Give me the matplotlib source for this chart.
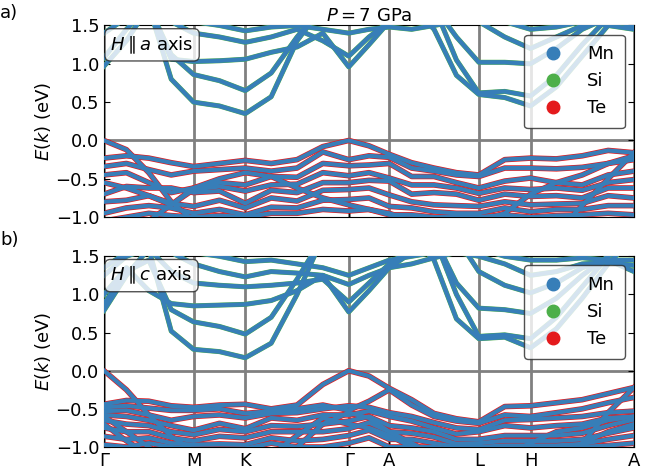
import numpy as np
from matplotlib import pyplot as plt
from matplotlib.lines import Line2D

# k-path sample positions (path length, Gamma-M = 1)
kpts = [0.0, 0.25, 0.5, 0.75, 1.0, 1.289, 1.577, 1.866, 2.155, 2.443, 2.732, 2.958,
        3.184, 3.434, 3.684, 3.934, 4.184, 4.473, 4.761, 5.050, 5.338, 5.627, 5.916]
sym_pos = [0.0, 1.0, 1.577, 2.732, 3.184, 4.184, 4.761, 5.916]
sym_lab = ['Γ', 'M', 'K', 'Γ', 'A', 'L', 'H', 'A']

# panel a) H || a : conduction bands (eV)
cond_a = [
    [0.97, 1.30, 1.75, 0.80, 0.50, 0.45, 0.35, 0.57, 1.30, 1.75, 1.75, 1.75, 1.75, 1.75, 1.45, 0.85, 0.60, 0.56, 0.45, 0.70, 1.10, 1.50, 1.75],
    [1.08, 1.45, 1.75, 1.12, 0.86, 0.78, 0.65, 0.88, 1.35, 1.75, 1.75, 1.75, 1.75, 1.75, 1.75, 1.05, 0.62, 0.64, 0.58, 0.85, 1.25, 1.60, 1.75],
    [1.40, 1.60, 1.75, 1.06, 1.03, 1.04, 1.06, 1.15, 1.22, 1.40, 0.96, 1.25, 1.55, 1.75, 1.75, 1.35, 1.02, 1.02, 1.00, 1.20, 1.45, 1.60, 1.75],
    [1.75, 1.75, 1.75, 1.55, 1.40, 1.35, 1.28, 1.35, 1.45, 1.30, 1.10, 1.35, 1.55, 1.60, 1.75, 1.75, 1.55, 1.35, 1.20, 1.35, 1.50, 1.60, 1.48],
    [1.75, 1.75, 1.70, 1.60, 1.55, 1.50, 1.43, 1.48, 1.50, 1.45, 1.40, 1.45, 1.48, 1.45, 1.50, 1.55, 1.75, 1.55, 1.45, 1.48, 1.55, 1.50, 1.45],
]
# panel a) valence bands (eV)
val_a = [
    [0.00, -0.12, -0.42, -0.80, -1.05, -1.20, -1.20, -1.20, -1.20, -1.20, -1.20, -1.20, -1.20, -1.20, -1.20, -1.20, -1.20, -1.20, -1.20, -1.20, -0.85, -0.50, -0.16],
    [-0.23, -0.20, -0.23, -0.29, -0.34, -0.30, -0.26, -0.30, -0.25, -0.08, 0.00, -0.07, -0.18, -0.29, -0.36, -0.42, -0.45, -0.25, -0.23, -0.24, -0.20, -0.13, -0.16],
    [-0.34, -0.30, -0.38, -0.45, -0.40, -0.38, -0.36, -0.40, -0.36, -0.15, -0.25, -0.20, -0.22, -0.36, -0.40, -0.45, -0.47, -0.36, -0.36, -0.37, -0.35, -0.30, -0.25],
    [-0.45, -0.42, -0.55, -0.68, -0.62, -0.55, -0.58, -0.47, -0.48, -0.30, -0.33, -0.32, -0.30, -0.47, -0.47, -0.55, -0.62, -0.53, -0.49, -0.55, -0.58, -0.45, -0.40],
    [-0.55, -0.62, -0.72, -0.84, -0.64, -0.60, -0.66, -0.58, -0.57, -0.42, -0.46, -0.42, -0.49, -0.58, -0.58, -0.62, -0.69, -0.62, -0.64, -0.62, -0.65, -0.55, -0.51],
    [-0.70, -0.60, -0.62, -0.62, -0.68, -0.66, -0.82, -0.65, -0.68, -0.55, -0.55, -0.52, -0.53, -0.70, -0.68, -0.70, -0.78, -0.70, -0.73, -0.72, -0.75, -0.62, -0.62],
    [-0.80, -0.78, -0.72, -0.82, -0.86, -0.78, -0.88, -0.75, -0.79, -0.65, -0.64, -0.62, -0.71, -0.80, -0.84, -0.85, -0.86, -0.80, -0.84, -0.83, -0.82, -0.72, -0.75],
    [-0.95, -0.88, -0.85, -0.88, -0.95, -0.90, -0.97, -0.87, -0.88, -0.78, -0.77, -0.75, -0.86, -0.88, -0.93, -0.95, -0.95, -0.88, -0.93, -0.90, -0.90, -0.85, -0.85],
    [-1.05, -1.00, -0.95, -0.98, -1.00, -0.98, -1.00, -0.95, -0.95, -0.90, -0.92, -0.90, -0.97, -0.97, -1.00, -1.00, -1.00, -0.97, -1.00, -0.98, -0.97, -0.95, -0.97],
    [-1.20, -1.20, -1.05, -0.84, -0.62, -0.50, -0.42, -0.47, -0.62, -0.75, -0.84, -0.90, -0.95, -1.05, -1.10, -1.10, -1.05, -0.95, -0.70, -0.55, -0.45, -0.30, -0.20],
]

# panel b) H || c : conduction bands (eV)
cond_b = [
    [0.79, 1.25, 1.60, 0.52, 0.28, 0.25, 0.17, 0.36, 1.00, 1.75, 1.75, 1.75, 1.75, 1.75, 1.45, 0.68, 0.42, 0.44, 0.30, 0.55, 0.95, 1.40, 1.75],
    [0.88, 1.30, 1.45, 0.80, 0.64, 0.58, 0.48, 0.70, 1.20, 1.75, 1.75, 1.75, 1.75, 1.75, 1.75, 1.00, 0.45, 0.47, 0.42, 0.70, 1.10, 1.50, 1.75],
    [1.00, 1.35, 1.05, 0.88, 0.85, 0.86, 0.87, 0.92, 1.05, 1.25, 0.77, 1.05, 1.35, 1.55, 1.75, 1.15, 0.82, 0.80, 0.75, 0.95, 1.25, 1.50, 1.75],
    [1.25, 1.50, 1.60, 1.30, 1.15, 1.12, 1.10, 1.12, 1.15, 1.20, 0.90, 1.15, 1.40, 1.60, 1.75, 1.75, 1.30, 1.12, 1.02, 1.15, 1.35, 1.45, 1.30],
    [1.35, 1.55, 1.75, 1.55, 1.40, 1.30, 1.23, 1.30, 1.28, 1.25, 1.13, 1.25, 1.35, 1.40, 1.48, 1.55, 1.50, 1.40, 1.25, 1.30, 1.40, 1.42, 1.38],
    [1.60, 1.75, 1.75, 1.70, 1.55, 1.50, 1.43, 1.45, 1.40, 1.35, 1.25, 1.35, 1.45, 1.50, 1.55, 1.75, 1.60, 1.50, 1.45, 1.45, 1.48, 1.45, 1.45],
]
# panel b) valence bands (eV)
val_b = [
    [0.00, -0.25, -0.58, -0.86, -1.05, -1.20, -1.20, -1.20, -1.20, -1.20, -1.20, -1.20, -1.20, -1.20, -1.20, -1.20, -1.20, -1.20, -1.20, -1.20, -0.95, -0.55, -0.22],
    [-0.44, -0.39, -0.40, -0.46, -0.48, -0.45, -0.44, -0.50, -0.45, -0.18, 0.00, -0.07, -0.23, -0.38, -0.56, -0.63, -0.67, -0.47, -0.46, -0.42, -0.38, -0.30, -0.22],
    [-0.48, -0.46, -0.49, -0.52, -0.52, -0.50, -0.56, -0.53, -0.50, -0.45, -0.52, -0.40, -0.25, -0.45, -0.60, -0.66, -0.69, -0.58, -0.60, -0.55, -0.50, -0.42, -0.35],
    [-0.53, -0.52, -0.58, -0.65, -0.60, -0.58, -0.62, -0.56, -0.55, -0.50, -0.46, -0.48, -0.55, -0.60, -0.68, -0.75, -0.77, -0.65, -0.64, -0.62, -0.60, -0.55, -0.53],
    [-0.58, -0.60, -0.65, -0.72, -0.78, -0.69, -0.76, -0.62, -0.65, -0.58, -0.58, -0.53, -0.60, -0.66, -0.75, -0.83, -0.80, -0.72, -0.75, -0.72, -0.70, -0.62, -0.60],
    [-0.65, -0.70, -0.72, -0.80, -0.84, -0.77, -0.80, -0.72, -0.73, -0.70, -0.66, -0.60, -0.72, -0.75, -0.80, -0.90, -0.90, -0.85, -0.85, -0.85, -0.82, -0.72, -0.64],
    [-0.75, -0.80, -0.80, -0.88, -0.92, -0.86, -0.88, -0.80, -0.80, -0.80, -0.76, -0.68, -0.80, -0.82, -0.87, -0.96, -0.95, -0.92, -0.92, -0.92, -0.90, -0.82, -0.75],
    [-0.86, -0.90, -0.88, -0.95, -0.97, -0.96, -0.97, -0.88, -0.92, -0.90, -0.85, -0.78, -0.90, -0.90, -0.95, -1.00, -1.00, -0.98, -0.98, -0.98, -0.96, -0.90, -0.85],
    [-0.97, -1.00, -0.95, -1.00, -1.02, -1.02, -1.02, -0.95, -1.00, -1.00, -0.95, -0.88, -1.00, -1.00, -1.00, -1.05, -1.05, -1.02, -1.02, -1.02, -1.00, -0.98, -0.95],
    [-0.60, -0.80, -1.00, -1.20, -1.20, -1.20, -1.20, -1.20, -1.00, -0.70, -0.55, -0.62, -0.80, -0.95, -1.10, -1.20, -1.20, -1.10, -0.95, -0.80, -0.75, -0.65, -0.60],
    [-0.70, -0.92, -1.10, -1.20, -1.20, -1.20, -1.20, -1.10, -0.85, -0.62, -0.70, -0.75, -0.85, -1.00, -1.20, -1.20, -1.20, -1.20, -1.20, -1.10, -0.95, -0.80, -0.70],
]

c_mn = '#377eb8'
c_si = '#4daf4a'
c_te = '#e41a1c'


def draw_panel(ax, cond, val, tag):
    for x in sym_pos:
        ax.axvline(x, color='0.5', lw=2, zorder=1)
    ax.axhline(0, color='0.5', lw=2, zorder=1)
    for band in val:
        ax.plot(kpts, band, color=c_te, lw=4.0, zorder=2, solid_joinstyle='round')
        ax.plot(kpts, band, color=c_mn, lw=3.0, zorder=4, solid_joinstyle='round')
    for band in cond:
        ax.plot(kpts, band, color=c_si, lw=3.6, zorder=3, solid_joinstyle='round')
        ax.plot(kpts, band, color=c_mn, lw=3.1, zorder=4, solid_joinstyle='round')
    ax.set_xlim(sym_pos[0], sym_pos[-1])
    ax.set_ylim(-1.0, 1.5)
    ax.set_yticks([-1.0, -0.5, 0.0, 0.5, 1.0, 1.5])
    ax.set_xticks(sym_pos)
    ax.tick_params(direction='in', right=True, length=4, labelsize=13)
    ax.set_ylabel('$E(k)$ (eV)', fontsize=13, labelpad=2)
    ax.text(0.012, 0.955, tag, transform=ax.transAxes, va='top', ha='left',
            fontsize=13, zorder=10,
            bbox=dict(boxstyle='round,pad=0.3', fc='white', ec='0.15', alpha=0.8))
    handles = [Line2D([], [], marker='o', ls='none', color=c, markersize=9)
               for c in (c_mn, c_si, c_te)]
    leg = ax.legend(handles, ['Mn', 'Si', 'Te'], loc='upper right', fontsize=13,
                    handlelength=2.0, handletextpad=0.9, labelspacing=0.5,
                    borderpad=0.6, framealpha=0.8, edgecolor='0.15', fancybox=True)
    leg.set_zorder(10)


fig = plt.figure(figsize=(6.6, 4.72), dpi=100)
ax1 = fig.add_axes([0.1576, 0.540, 0.803, 0.406])
ax2 = fig.add_axes([0.1576, 0.053, 0.803, 0.404])

draw_panel(ax1, cond_a, val_a, r'$H\parallel a$ axis')
draw_panel(ax2, cond_b, val_b, r'$H\parallel c$ axis')
ax1.set_xticklabels([])
ax2.set_xticklabels(sym_lab, fontsize=13)
ax1.set_title('$P = 7$ GPa', fontsize=13, pad=3)

fig.text(0.0, 0.972, 'a)', fontsize=13, va='center')
fig.text(0.0, 0.492, 'b)', fontsize=13, va='center')

fig.savefig('out.png', dpi=100)
